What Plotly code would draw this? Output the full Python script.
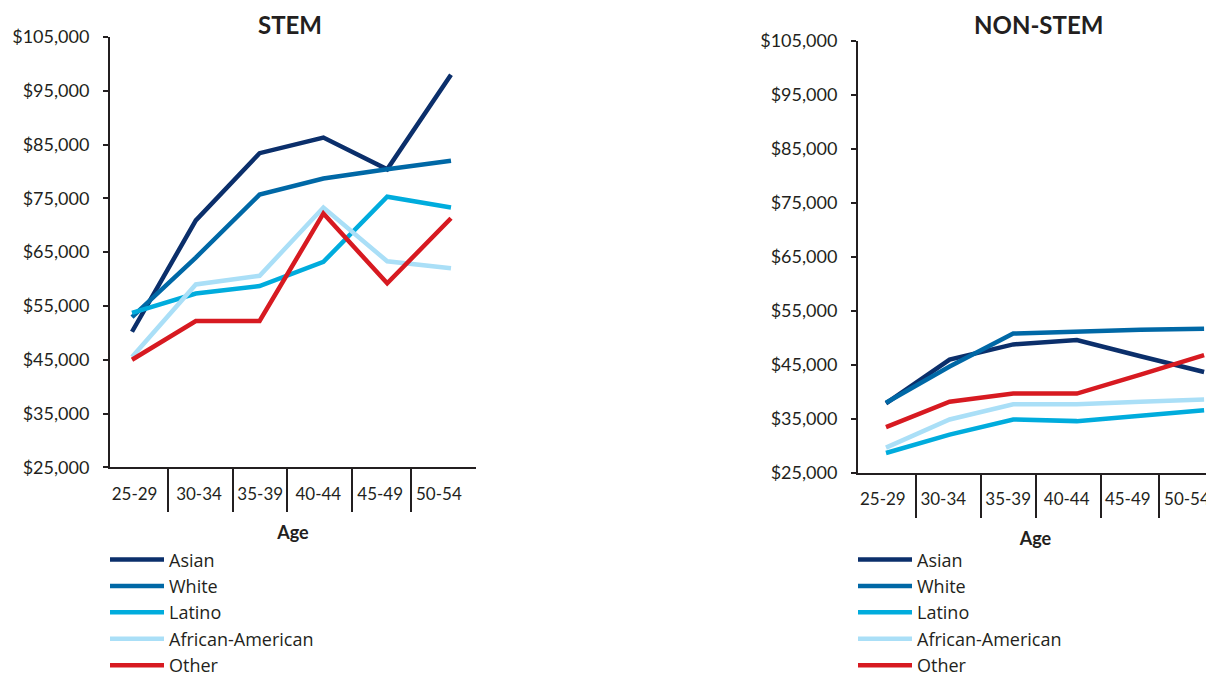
import plotly.graph_objects as go

# --- data ---
ages = ["25-29", "30-34", "35-39", "40-44", "45-49", "50-54"]
groups = ["Asian", "White", "Latino", "African-American", "Other"]

stem_asian = [50200, 70900, 83400, 86300, 80400, 98000]
stem_white = [52900, 64000, 75700, 78700, 80400, 82000]
stem_latino = [53700, 57300, 58700, 63200, 75300, 73300]
stem_african_american = [45500, 59000, 60600, 73300, 63300, 62000]
stem_other = [45000, 52200, 52200, 72200, 59200, 71300]

nonstem_asian = [37900, 46000, 48800, 49600, 46600, 43700]
nonstem_white = [38000, 44700, 50800, 51200, 51500, 51700]
nonstem_latino = [28700, 32100, 34900, 34600, 35600, 36600]
nonstem_african_american = [29700, 34900, 37700, 37700, 38200, 38600]
nonstem_other = [33500, 38200, 39700, 39700, 43200, 46800]

y_ticks = [25000, 35000, 45000, 55000, 65000, 75000, 85000, 95000, 105000]
y_tick_labels = ["$" + f"{v:,}" for v in y_ticks]

# --- style ---
colors = {
    "Asian": "#0b2f6b",
    "White": "#0068a6",
    "Latino": "#00acdd",
    "African-American": "#aadff7",
    "Other": "#d71a21",
}
INK = "#231f20"
FONT = "Lato"

# page body has an 8px margin: figure pixel = page pixel - 8.
# the figure is a bit taller than the window; the overflow is never seen.
OFF = 8
W, H = 1214 - OFF, 720
PLOT_TOP, PLOT_BOTTOM = 37, 472.7          # page px, union of both panels
MT = PLOT_TOP - OFF
MB = H - (PLOT_BOTTOM - OFF)
PLOT_H = H - MT - MB


def fx(page_px):
    return (page_px - OFF) / W


def fy(page_px):
    return 1 - (page_px - PLOT_TOP) / PLOT_H


# where the age labels and the divider ticks sit (in category index units)
left_label_pos = [0.04, 1.05, 2.01, 2.92, 3.89, 4.81]
left_divider_pos = [0.56, 1.58, 2.43, 3.45, 4.37]
right_label_pos = [-0.05, 0.90, 1.92, 2.84, 3.80, 4.73]
right_divider_pos = [0.47, 1.50, 2.35, 3.38, 4.29]

stem = [stem_asian, stem_white, stem_latino, stem_african_american, stem_other]
nonstem = [nonstem_asian, nonstem_white, nonstem_latino,
           nonstem_african_american, nonstem_other]
x_idx = list(range(len(ages)))

fig = go.Figure()

for name, vals in zip(groups, stem):
    fig.add_trace(go.Scatter(
        x=x_idx, y=vals, name=name, mode="lines",
        line=dict(color=colors[name], width=4.5),
        xaxis="x", yaxis="y", legend="legend",
        legendgroup="stem_" + name,
    ))

for name, vals in zip(groups, nonstem):
    fig.add_trace(go.Scatter(
        x=x_idx, y=vals, name=name, mode="lines",
        line=dict(color=colors[name], width=4.5),
        xaxis="x2", yaxis="y2", legend="legend2",
        legendgroup="nonstem_" + name,
    ))


def x_axis(domain, rng, label_pos, divider_pos, anchor):
    return dict(
        domain=domain, range=rng, anchor=anchor,
        showline=True, linecolor=INK, linewidth=2,
        showgrid=False, zeroline=False,
        tickmode="array", tickvals=label_pos, ticktext=ages,
        ticks="", ticklabelstandoff=10,
        tickfont=dict(family=FONT, size=17, color=INK),
        minor=dict(tickmode="array", tickvals=divider_pos, ticks="outside",
                   ticklen=43, tickwidth=1.5, tickcolor=INK),
        title=dict(text="<b>Age</b>", font=dict(family=FONT, size=18, color=INK),
                   standoff=24),
        fixedrange=True,
    )


def y_axis(domain, anchor):
    return dict(
        domain=domain, range=[25000, 105000], anchor=anchor,
        showline=True, linecolor=INK, linewidth=2,
        showgrid=False, zeroline=False,
        tickmode="array", tickvals=y_ticks, ticktext=y_tick_labels,
        ticks="outside", ticklen=5, tickwidth=1.5, tickcolor=INK,
        ticklabelstandoff=10,
        tickfont=dict(family=FONT, size=18, color=INK),
        fixedrange=True,
    )


legend_style = dict(
    font=dict(family="Open Sans", size=18, color=INK),
    bgcolor="rgba(0,0,0,0)", borderwidth=0,
    xanchor="left", yanchor="top", tracegroupgap=0, itemwidth=54,
    itemclick=False, itemdoubleclick=False,
)


def heading(text, x):
    # flush with the top edge of the figure, so it never pushes the margin
    return dict(text=text, x=fx(x), y=fy(OFF), xref="paper", yref="paper",
                xanchor="center", yanchor="top", showarrow=False,
                font=dict(family=FONT, size=24, color=INK))


fig.update_layout(
    width=W, height=H,
    margin=dict(l=0, r=0, t=MT, b=MB),
    paper_bgcolor="white", plot_bgcolor="white",
    font=dict(family=FONT, color=INK),
    xaxis=x_axis([fx(110), fx(476)], [-0.345, 5.392],
                 left_label_pos, left_divider_pos, "y"),
    yaxis=y_axis([fy(467), fy(37)], "x"),
    xaxis2=x_axis([fx(858), fx(1213)], [-0.44, 5.14],
                  right_label_pos, right_divider_pos, "y2"),
    yaxis2=y_axis([fy(472.7), fy(40.7)], "x2"),
    legend=dict(x=fx(105), y=fy(541), **legend_style),
    legend2=dict(x=fx(853), y=fy(541), **legend_style),
    annotations=[
        heading("<b>STEM</b>", 290),
        heading("<b>NON-STEM</b>", 1038),
        dict(text="S", x=fx(1150), y=fy(670), xref="paper", yref="paper",
             xanchor="left", yanchor="top", showarrow=False,
             font=dict(family=FONT, size=18, color=INK)),
    ],
)

fig.write_html("out.html")
